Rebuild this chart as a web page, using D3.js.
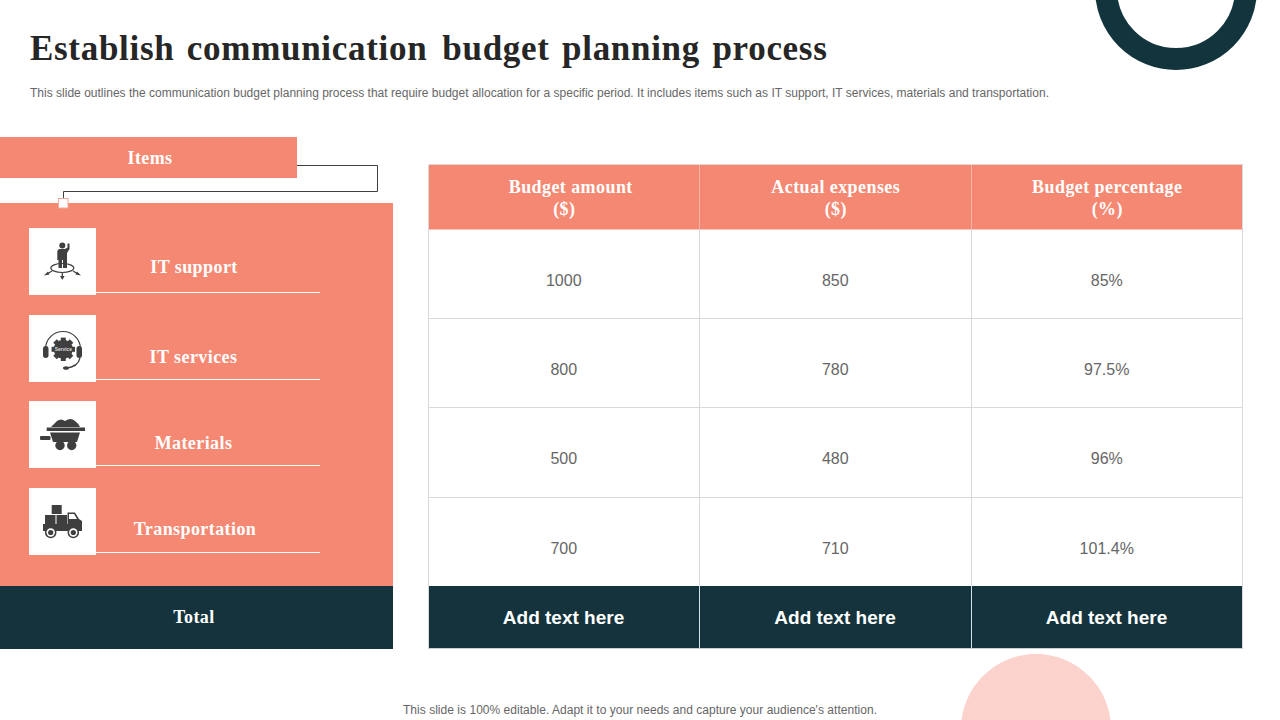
<!DOCTYPE html>
<html>
<head>
<meta charset="utf-8">
<style>
  html, body { margin: 0; padding: 0; background: #fff; }
  svg { display: block; }
  .serif { font-family: "Liberation Serif", serif; font-weight: 700; }
  .sans { font-family: "Liberation Sans", sans-serif; }
</style>
</head>
<body>
<svg width="1280" height="720"></svg>
<script src="https://d3js.org/d3.v7.min.js"></script>
<script>

const items = ["IT support", "IT services", "Materials", "Transportation"];
const columns = ["Budget amount", "Actual expenses", "Budget percentage"];
const units = ["($)", "($)", "(%)"];
const budget = [1000, 800, 500, 700];
const actual = [850, 780, 480, 710];
const percent = ["85%", "97.5%", "96%", "101.4%"];
const footer = ["Add text here", "Add text here", "Add text here"];

const salmon = "#f58872";
const dark = "#14333c";
const iconGrey = "#3f3f3f";

const svg = d3.select("svg");

// background shapes
svg.append("circle").attr("cx", 1176).attr("cy", -11).attr("r", 70)
  .attr("fill", "none").attr("stroke", "#12343d").attr("stroke-width", 22);
svg.append("circle").attr("cx", 1036).attr("cy", 729).attr("r", 75).attr("fill", "#fbd3cc");

// title
const title = svg.append("text").attr("class", "serif").attr("x", 30).attr("y", 60)
  .attr("font-size", 35).attr("fill", "#262626")
  .attr("letter-spacing", 0.7).attr("word-spacing", 3);
title.append("tspan").text("Establish communication ");
title.append("tspan").attr("dx", 2.5).text("budget planning process");

svg.append("text").attr("class", "sans").attr("x", 30).attr("y", 97)
  .attr("font-size", 12).attr("fill", "#666")
  .attr("textLength", 1019).attr("lengthAdjust", "spacing")
  .text("This slide outlines the communication budget planning process that require budget allocation for a specific period. It includes items such as IT support, IT services, materials and transportation.");

svg.append("text").attr("class", "sans").attr("x", 640).attr("y", 714)
  .attr("font-size", 12).attr("fill", "#666").attr("text-anchor", "middle")
  .attr("textLength", 474).attr("lengthAdjust", "spacing")
  .text("This slide is 100% editable. Adapt it to your needs and capture your audience's attention.");

// left panel
svg.append("rect").attr("x", 0).attr("y", 137).attr("width", 297).attr("height", 41).attr("fill", salmon);
svg.append("text").attr("class", "serif").attr("x", 150).attr("y", 163.5).attr("letter-spacing", 0.42)
  .attr("font-size", 18).attr("fill", "#fff").attr("text-anchor", "middle").text("Items");

svg.append("path").attr("d", "M297,165.5H377.5V191.5H63.5V198")
  .attr("fill", "none").attr("stroke", "#404040").attr("stroke-width", 1);

svg.append("rect").attr("x", 0).attr("y", 203).attr("width", 393).attr("height", 383).attr("fill", salmon);
svg.append("rect").attr("x", 58.5).attr("y", 198.5).attr("width", 9.5).attr("height", 9.5)
  .attr("fill", "#fff").attr("stroke", "#f6a898").attr("stroke-width", 1);

svg.append("rect").attr("x", 0).attr("y", 586).attr("width", 393).attr("height", 63).attr("fill", dark);
svg.append("text").attr("class", "serif").attr("x", 194).attr("y", 622.5).attr("letter-spacing", 0.42)
  .attr("font-size", 18).attr("fill", "#fff").attr("text-anchor", "middle").text("Total");

const itemY = d3.scalePoint().domain(items).range([228, 488]);
const labelBase = [273, 363, 449, 535];
const labelX = [194, 193.5, 193.5, 195];

const row = svg.append("g").selectAll("g").data(items).enter().append("g")
  .attr("transform", d => `translate(29,${Math.round(itemY(d))})`);

row.append("rect").attr("width", 67).attr("height", 67).attr("fill", "#fff");
row.append("line").attr("x1", 67).attr("x2", 291).attr("y1", 64.5).attr("y2", 64.5)
  .attr("stroke", "#fff").attr("stroke-width", 1);

svg.append("g").selectAll("text").data(items).enter().append("text")
  .attr("class", "serif").attr("font-size", 18).attr("fill", "#fff").attr("text-anchor", "middle")
  .attr("letter-spacing", 0.42)
  .attr("x", (d, i) => labelX[i]).attr("y", (d, i) => labelBase[i]).text(d => d);

// icons, drawn inside each 67px box
const icons = row.append("g").attr("fill", iconGrey).attr("stroke", "none");

// person on a hub
const i0 = icons.filter((d, i) => i === 0);
i0.append("circle").attr("cx", 33.3).attr("cy", 17.5).attr("r", 3);
i0.append("path").attr("d", "M28.3,24Q28.3,21 31,21H36L38.5,19.5V15.5H40.5V21L38,25V40H34V32H33V40H29.5V32H28.3Z");
i0.append("ellipse").attr("cx", 33.3).attr("cy", 40).attr("rx", 11.5).attr("ry", 4.5)
  .attr("fill", "none").attr("stroke", iconGrey).attr("stroke-width", 1.2);
i0.append("path").attr("d", "M23,43L18,46M44,43L49,46M33.3,44.5V49")
  .attr("fill", "none").attr("stroke", iconGrey).attr("stroke-width", 1.2);
i0.append("path").attr("d", "M15,47.5L19,43.5L20.5,46.5ZM52,47.5L48,43.5L46.5,46.5ZM33.3,52L31,48H35.6Z");

// headset with service gear
const i1 = icons.filter((d, i) => i === 1);
i1.append("path").attr("d", "M16.5,34A17.5,17.5 0 0 1 51.5,34M51,43Q49,52 37,53")
  .attr("fill", "none").attr("stroke", iconGrey).attr("stroke-width", 1.2);
i1.append("rect").attr("x", 14).attr("y", 31).attr("width", 5.5).attr("height", 12).attr("rx", 2.7);
i1.append("rect").attr("x", 47.5).attr("y", 31).attr("width", 5.5).attr("height", 12).attr("rx", 2.7);
i1.append("ellipse").attr("cx", 37).attr("cy", 53).attr("rx", 3).attr("ry", 1.8);
i1.append("circle").attr("cx", 34.3).attr("cy", 34.3).attr("r", 9.5);
i1.append("g").selectAll("rect").data(d3.range(8)).enter().append("rect")
  .attr("x", 31.8).attr("y", 22.6).attr("width", 5).attr("height", 5)
  .attr("transform", d => `rotate(${d * 45} 34.3 34.3)`);
i1.append("text").attr("class", "sans").attr("x", 34.3).attr("y", 36).attr("font-size", 4.8)
  .attr("font-weight", 700).attr("fill", "#ddd").attr("text-anchor", "middle").text("Service");

// mine cart
const i2 = icons.filter((d, i) => i === 2);
i2.append("path").attr("d", "M22,26Q25,23 28,20Q32,17 36,20Q42,16 46,20Q49,22 51,26Z");
i2.append("rect").attr("x", 17.7).attr("y", 26.5).attr("width", 38.3).attr("height", 3.5);
i2.append("path").attr("d", "M21,31.5H51L48,41H24Z");
i2.append("rect").attr("x", 11).attr("y", 35).attr("width", 10.5).attr("height", 4).attr("rx", 1);
i2.append("circle").attr("cx", 31).attr("cy", 44.5).attr("r", 4.7);
i2.append("circle").attr("cx", 42.7).attr("cy", 44.5).attr("r", 4.7);

// delivery truck with boxes
const i3 = icons.filter((d, i) => i === 3);
i3.append("rect").attr("x", 22.7).attr("y", 17).attr("width", 10).attr("height", 9);
i3.append("rect").attr("x", 16).attr("y", 27).attr("width", 10.5).attr("height", 9);
i3.append("rect").attr("x", 27.5).attr("y", 27).attr("width", 10.5).attr("height", 9);
i3.append("path").attr("d", "M14,36H38.5V24.5H46L50,31L53,33V43H14Z");
i3.append("path").attr("d", "M40,26H45L48,31H40Z").attr("fill", "#fff");
[21.7, 44.3].forEach(cx => {
  i3.append("circle").attr("cx", cx).attr("cy", 44.5).attr("r", 5.8);
  i3.append("circle").attr("cx", cx).attr("cy", 44.5).attr("r", 4.2).attr("fill", "#fff");
  i3.append("circle").attr("cx", cx).attr("cy", 44.5).attr("r", 2.6);
});

// table
const x = d3.scaleBand().domain(columns).range([428.5, 1243]);
const y = d3.scaleBand().domain(d3.range(budget.length)).range([229, 586.5]);
const rows = budget.map((d, i) => [d, actual[i], percent[i]]);
const headTop = 165, headBottom = 229.5, footTop = 586, footBottom = 648.5;
const centre = d => x(d) + x.bandwidth() / 2;
const crisp = v => Math.floor(v - 0.01) + 0.5;

svg.append("rect").attr("x", x.range()[0]).attr("y", headTop)
  .attr("width", x.range()[1] - x.range()[0]).attr("height", headBottom - headTop).attr("fill", salmon);
svg.append("rect").attr("x", x.range()[0]).attr("y", footTop)
  .attr("width", x.range()[1] - x.range()[0]).attr("height", footBottom - footTop).attr("fill", dark);

const grid = svg.append("g").attr("stroke-width", 1).attr("fill", "none");
grid.selectAll("line.h").data(d3.range(1, budget.length)).enter().append("line").attr("class", "h")
  .attr("x1", 428.5).attr("x2", 1243)
  .attr("y1", d => crisp(y(d)))
  .attr("y2", d => crisp(y(d)))
  .attr("stroke", "#d9d9d9");
grid.append("line").attr("x1", 428.5).attr("x2", 1243).attr("y1", headTop - 0.5).attr("y2", headTop - 0.5).attr("stroke", "#e3d5d0");
grid.append("line").attr("x1", 428.5).attr("x2", 1243).attr("y1", footBottom).attr("y2", footBottom).attr("stroke", "#c9cfd1");

// column dividers
const edges = columns.map(d => x(d)).concat([x.range()[1]]).map(crisp);
grid.selectAll("line.v").data([edges[0], edges[3]]).enter().append("line").attr("class", "v")
  .attr("x1", d => d).attr("x2", d => d).attr("y1", headTop).attr("y2", footBottom)
  .attr("stroke", "#d9d9d9");
grid.selectAll("line.vb").data(edges.slice(1, 3)).enter().append("line").attr("class", "vb")
  .attr("x1", d => d).attr("x2", d => d).attr("y1", headBottom).attr("y2", footTop)
  .attr("stroke", "#d9d9d9");
grid.selectAll("line.vf").data(edges.slice(1, 3)).enter().append("line").attr("class", "vf")
  .attr("x1", d => d).attr("x2", d => d).attr("y1", footTop).attr("y2", footBottom)
  .attr("stroke", "#d5e3e8");
grid.selectAll("line.vh").data(edges.slice(1, 3)).enter().append("line").attr("class", "vh")
  .attr("x1", d => d).attr("x2", d => d).attr("y1", headTop).attr("y2", headBottom)
  .attr("stroke", "#f8b5a6");

// header text
const nameShift = [6.5, 0, 0];
const head = svg.append("g").attr("class", "serif").attr("font-size", 18).attr("fill", "#fff")
  .attr("text-anchor", "middle").attr("letter-spacing", 0.42);
head.selectAll("text.name").data(columns).enter().append("text").attr("class", "name")
  .attr("x", (d, i) => centre(d) + nameShift[i]).attr("y", 193).text(d => d);
head.selectAll("text.unit").data(units).enter().append("text").attr("class", "unit")
  .attr("x", (d, i) => centre(columns[i])).attr("y", 215).text(d => d);

// body cells
rows.forEach((r, ri) => {
  svg.append("g").selectAll("text").data(r).enter().append("text")
    .attr("class", "sans").attr("font-size", 16).attr("fill", "#666").attr("text-anchor", "middle")
    .attr("x", (d, i) => centre(columns[i]) - 0.5)
    .attr("y", y(ri) + y.bandwidth() / 2 + 12)
    .text(d => d);
});

// footer cells
svg.append("g").selectAll("text").data(footer).enter().append("text")
  .attr("class", "sans").attr("font-size", 19).attr("font-weight", 700).attr("fill", "#fff").attr("text-anchor", "middle")
  .attr("x", (d, i) => centre(columns[i]) - 0.7).attr("y", 623.5)
  .text(d => d);

</script>
</body>
</html>
